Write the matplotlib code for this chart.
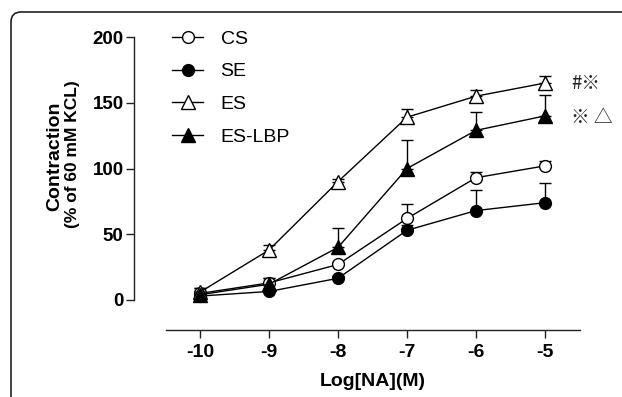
import matplotlib
matplotlib.use("Agg")
import matplotlib.pyplot as plt
import numpy as np
from matplotlib.patches import FancyBboxPatch
from matplotlib.lines import Line2D

plt.rcParams['font.family'] = ['Liberation Sans', 'DejaVu Sans']

log_na = [-10, -9, -8, -7, -6, -5]
xtick_labels = ['-10', '-9', '-8', '-7', '-6', '-5']
yticks = [0, 50, 100, 150, 200]

cs = [5, 13, 27, 62, 93, 102]
cs_err = [4, 4, 2, 11, 4, 4]
se = [3, 6.5, 16.5, 53, 68, 74]
se_err = [2, 2, 2, 4, 16, 15]
es = [6, 38, 90, 139, 155, 165]
es_err = [3, 4, 2, 6, 5, 5]
es_lbp = [4, 12, 40, 100, 129, 140]
es_lbp_err = [3, 5, 15, 22, 14, 16]

W, H = 622, 397
fig = plt.figure(figsize=(W / 100, H / 100), dpi=100)

ax = fig.add_axes([134 / W, (H - 330) / H, (580 - 134) / W, (330 - 37) / H])
ppu_x = 69.0
x_left = -10 - (200 - 134) / ppu_x
x_right = -5 + (580 - 545) / ppu_x
ax.set_xlim(x_left, x_right)
ppu_y = (300 - 37) / 200.0
ax.set_ylim(-(330 - 300) / ppu_y, 200)

for s in ['top', 'right']:
    ax.spines[s].set_visible(False)
ax.spines['left'].set_bounds(0, 200)
ax.spines['bottom'].set_bounds(-10 - (200 - 166) / ppu_x, x_right)
for s in ['left', 'bottom']:
    ax.spines[s].set_linewidth(1.0)
    ax.spines[s].set_color('#222222')

ax.set_xticks(log_na)
ax.set_xticklabels(xtick_labels)
ax.set_yticks(yticks)
ax.tick_params(axis='both', length=6, width=1.0, color='#222222', pad=2)
ax.tick_params(axis='x', labelsize=14, pad=4)
ax.tick_params(axis='y', labelsize=13.5, pad=1.5)
for lab in ax.get_xticklabels() + ax.get_yticklabels():
    lab.set_fontweight('bold')

series = [
    ('CS', cs, cs_err, 'o', 'white', 8.5),
    ('SE', se, se_err, 'o', 'black', 8.5),
    ('ES', es, es_err, '^', 'white', 9.5),
    ('ES-LBP', es_lbp, es_lbp_err, '^', 'black', 9.5),
]
handles = []
for name, vals, err, mk, fc, ms in series:
    ax.errorbar(log_na, vals, yerr=[np.zeros(len(err)), err], fmt='none',
                ecolor='black', elinewidth=1.0, capsize=4.5, capthick=1.0,
                clip_on=False, zorder=2)
    ax.plot(log_na, vals, color='black', lw=1.0, marker=mk, markersize=ms,
            markerfacecolor=fc, markeredgecolor='black', markeredgewidth=1.0,
            clip_on=False, zorder=3)
    handles.append(Line2D([0], [0], color='black', lw=1.0, marker=mk, markersize=ms,
                          markerfacecolor=fc, markeredgecolor='black',
                          markeredgewidth=1.0, label=name))

leg = ax.legend(handles=handles, loc='upper left', bbox_to_anchor=(172 / W, (H - 30) / H),
                bbox_transform=fig.transFigure, frameon=False, fontsize=14,
                labelspacing=0.78, handlelength=1.6, handletextpad=0.9,
                borderpad=0, borderaxespad=0)

cjk = ['Noto Sans CJK SC', 'DejaVu Sans']
ax.text(-5 + (571 - 545) / ppu_x, 165, '#※', fontsize=13.5, family=cjk,
        va='center', ha='left', color='#222222')
ax.text(-5 + (571 - 545) / ppu_x, 139, '※ △', fontsize=13.5, family=cjk,
        va='center', ha='left', color='#222222')

fig.text(55 / W, (H - 156) / H, 'Contraction', rotation=90,
         ha='center', va='center', fontsize=14, fontweight='bold')
fig.text(73 / W, (H - 154) / H, '(% of 60 mM KCL)', rotation=90,
         ha='center', va='center', fontsize=12.5, fontweight='bold')
fig.text(373 / W, (H - 381) / H, 'Log[NA](M)', ha='center', va='center',
         fontsize=14, fontweight='bold')

frame = FancyBboxPatch((11, -30), 700, H - 12 + 30,
                       boxstyle='round,pad=0,rounding_size=10',
                       transform=None, fill=False, edgecolor='#222222', lw=1.2)
fig.add_artist(frame)

fig.savefig('out.png', dpi=100)
